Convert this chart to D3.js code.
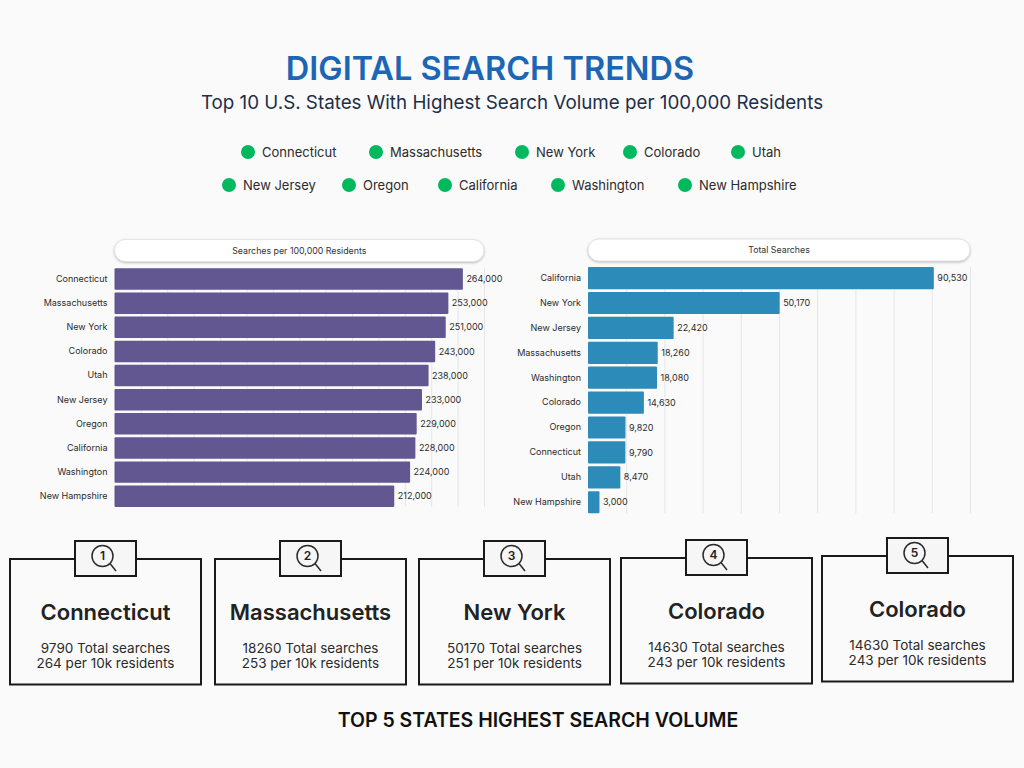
<!DOCTYPE html>
<html lang="en">
<head>
    <meta charset="UTF-8">
    <title>Digital Search Trends</title>
    <script src="https://d3js.org/d3.v7.min.js"></script>
    <style>
        html, body { margin: 0; padding: 0; background: #fafafa; }
        svg { display: block; }
        text { font-family: Inter, "Noto Sans", sans-serif; }
        .axis path { display: none; }
        .axis line { stroke: #e6e6e6; }
    </style>
</head>
<body>
    <svg width="1024" height="768"></svg>
    <script>
        // values
        const legendRow1 = ["Connecticut", "Massachusetts", "New York", "Colorado", "Utah"];
        const legendRow2 = ["New Jersey", "Oregon", "California", "Washington", "New Hampshire"];

        const rateStates = ["Connecticut", "Massachusetts", "New York", "Colorado", "Utah", "New Jersey", "Oregon", "California", "Washington", "New Hampshire"];
        const rateValues = [264000, 253000, 251000, 243000, 238000, 233000, 229000, 228000, 224000, 212000];

        const totalStates = ["California", "New York", "New Jersey", "Massachusetts", "Washington", "Colorado", "Oregon", "Connecticut", "Utah", "New Hampshire"];
        const totalValues = [90530, 50170, 22420, 18260, 18080, 14630, 9820, 9790, 8470, 3000];

        const cardRanks = [1, 2, 3, 4, 5];
        const cardStates = ["Connecticut", "Massachusetts", "New York", "Colorado", "Colorado"];
        const cardTotals = [9790, 18260, 50170, 14630, 14630];
        const cardRates = [264, 253, 251, 243, 243];

        // layout, kept apart from the values
        const legendRow1X = [248, 376, 522, 630, 738];
        const legendRow2X = [229, 349, 445, 558, 685];
        const cardX = [10, 215, 419, 621, 822];
        const cardY = [559, 559, 559, 558, 556];

        const svg = d3.select("svg");

        svg.append("text").attr("x", 490).attr("y", 80).attr("text-anchor", "middle")
            .attr("font-size", 32.5).attr("font-weight", 600).attr("fill", "#1b66b5")
            .text("DIGITAL SEARCH TRENDS");
        svg.append("text").attr("x", 512).attr("y", 109).attr("text-anchor", "middle")
            .attr("font-size", 18.8).attr("fill", "#1c2f4a")
            .text("Top 10 U.S. States With Highest Search Volume per 100,000 Residents");

        function drawLegend(names, xs, y) {
            names.forEach((name, i) => {
                svg.append("circle").attr("cx", xs[i]).attr("cy", y).attr("r", 7).attr("fill", "#00b95f");
                svg.append("text").attr("x", xs[i] + 14).attr("y", y).attr("dy", "0.35em")
                    .attr("font-size", 13).attr("fill", "#2b2b2b").text(name);
            });
        }
        drawLegend(legendRow1, legendRow1X, 152);
        drawLegend(legendRow2, legendRow2X, 185);

        function drawBars(opts) {
            const x = d3.scaleLinear().domain([0, opts.max]).range([opts.x0, opts.x1]);
            const y = d3.scaleBand().domain(opts.states).range([opts.y0, opts.y1]).paddingInner(0.11);

            // grid first, bars go over it
            svg.append("g").attr("class", "axis").attr("transform", `translate(0,${opts.y1})`)
                .call(d3.axisBottom(x).tickValues(d3.range(opts.step, opts.max + 1, opts.step)).tickSize(opts.y0 - opts.y1).tickFormat(""));

            svg.append("rect").attr("x", opts.x0).attr("y", opts.pillY).attr("width", opts.x1 - opts.x0).attr("height", 22)
                .attr("rx", 11).attr("fill", "#fff").attr("stroke", "#e4e4e4")
                .style("filter", "drop-shadow(0.5px 1px 1px #bbb)");
            svg.append("text").attr("x", (opts.x0 + opts.x1) / 2).attr("y", opts.pillY + 11).attr("dy", "0.35em")
                .attr("text-anchor", "middle").attr("font-size", 8.8).attr("fill", "#333").text(opts.title);

            const yAxis = svg.append("g").attr("transform", `translate(${opts.x0 - 4},0)`)
                .call(d3.axisLeft(y).tickSize(0).tickPadding(3));
            yAxis.select("path").remove();
            yAxis.selectAll("text").attr("font-size", 9).attr("font-family", "Inter").attr("fill", "#2b2b2b");

            svg.selectAll(null).data(opts.values).enter().append("rect")
                .attr("x", opts.x0)
                .attr("y", (d, i) => y(opts.states[i]))
                .attr("width", d => x(d) - opts.x0)
                .attr("height", y.bandwidth())
                .attr("rx", 1)
                .attr("fill", opts.color);

            svg.selectAll(null).data(opts.values).enter().append("text")
                .attr("x", d => x(d) + 3.5)
                .attr("y", (d, i) => y(opts.states[i]) + y.bandwidth() / 2)
                .attr("dy", "0.35em")
                .attr("font-size", 9).attr("fill", "#2b2b2b")
                .text(d => d3.format(",")(d));
        }

        drawBars({ title: "Searches per 100,000 Residents", states: rateStates, values: rateValues, max: 280000, step: 20000,
            x0: 114.5, x1: 484, y0: 268.3, y1: 507, pillY: 239.5, color: "#625790" });
        drawBars({ title: "Total Searches", states: totalStates, values: totalValues, max: 100000, step: 10000,
            x0: 588, x1: 970, y0: 267, y1: 513.3, pillY: 239, color: "#2d8bba" });

        cardRanks.forEach((rank, i) => {
            const g = svg.append("g").attr("transform", `translate(${cardX[i]},${cardY[i]})`);
            g.append("rect").attr("width", 191).attr("height", 125.5).attr("fill", "none").attr("stroke", "#1a1a1a").attr("stroke-width", 2);
            // tab with the numbered magnifier
            g.append("rect").attr("x", 65).attr("y", -18).attr("width", 61).attr("height", 35)
                .attr("fill", "#f6f6f6").attr("stroke", "#1a1a1a").attr("stroke-width", 2);
            g.append("circle").attr("cx", 92.5).attr("cy", -3).attr("r", 10.5).attr("fill", "none").attr("stroke", "#2b2b2b").attr("stroke-width", 1.5);
            g.append("line").attr("x1", 100).attr("y1", 4.5).attr("x2", 106).attr("y2", 12).attr("stroke", "#2b2b2b").attr("stroke-width", 1.5);
            g.append("text").attr("x", 92.5).attr("y", -3).attr("dy", "0.36em").attr("text-anchor", "middle")
                .attr("font-size", 12).attr("font-weight", 600).attr("fill", "#222").text(rank);

            g.append("text").attr("x", 95.5).attr("y", 61).attr("text-anchor", "middle")
                .attr("font-size", 22).attr("font-weight", 600).attr("fill", "#222").text(cardStates[i]);
            g.append("text").attr("x", 95.5).attr("y", 94).attr("text-anchor", "middle")
                .attr("font-size", 13.5).attr("fill", "#2b2b2b").text(cardTotals[i] + " Total searches");
            g.append("text").attr("x", 95.5).attr("y", 109).attr("text-anchor", "middle")
                .attr("font-size", 13.5).attr("fill", "#2b2b2b").text(cardRates[i] + " per 10k residents");
        });

        svg.append("text").attr("x", 538).attr("y", 727).attr("text-anchor", "middle")
            .attr("font-size", 19.5).attr("font-weight", 600).attr("fill", "#111")
            .text("TOP 5 STATES HIGHEST SEARCH VOLUME");
    </script>
</body>
</html>
